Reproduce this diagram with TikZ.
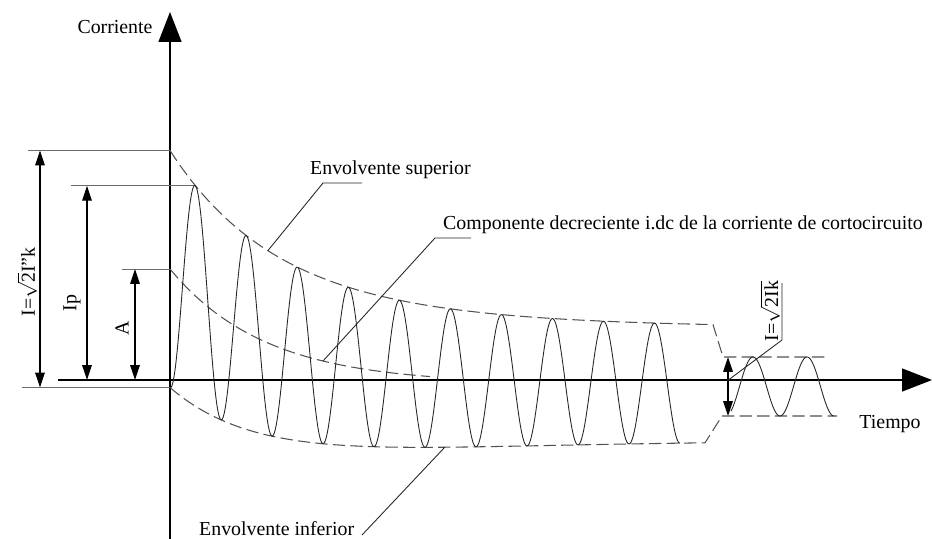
\documentclass[tikz,border=0pt]{standalone}
\usepackage{fontspec}
\setmainfont{Liberation Serif}
\usetikzlibrary{arrows.meta}

\begin{document}
\begin{tikzpicture}[x=0.02cm, y=0.02cm, font=\fontsize{11.3}{13}\selectfont,
  eje/.style={line width=0.9pt, -{Triangle[length=17pt,width=13pt]}},
  guia/.style={gray!85!black, line width=0.5pt},
  cota/.style={line width=0.6pt, {Triangle[length=8.5pt,width=5.5pt]}-{Triangle[length=8.5pt,width=5.5pt]}},
  env/.style={gray!65!black, line width=0.6pt, dash pattern=on 7pt off 3pt},
  onda/.style={black!85, line width=0.5pt},
  flecha/.style={gray!30!black, line width=0.5pt}]
  \useasboundingbox (-170,-158) rectangle (762,380);

  % ejes
  \coordinate (O) at (0,0);
  \draw[eje] (0,-160) -- (0,368) coordinate (ytop);
  \draw[eje] (-112,0) -- (762,0) coordinate (xtop);
  \node (corr) at (-55,353) {Corriente};
  \node (tiem) at (720,-44) {Tiempo};

  % lineas de referencia
  \draw[guia] (-142,229.5) -- (0,229.5);
  \draw[guia] (-99,194.2) -- (25.5,194.2);
  \draw[guia] (-48,111) -- (0,111);
  \draw[guia] (-148,-7.5) -- (0,-7.5);

  % cotas
  \draw[cota] (-130,229.5) -- (-130,-7.5);
  \draw[cota] (-83,194.2) -- (-83,0);
  \draw[cota] (-35,111) -- (-35,0);
  \draw[cota] (558,23) -- (558,-36);
  \node[rotate=90] (ik2) at (-143,98) {I=$\sqrt{\mbox{2}}$I\char"22k};
  \node[rotate=90] (ip) at (-98,77) {Ip};
  \node[rotate=90] (a) at (-48,52) {A};

  % envolventes
  \draw[env, domain=0:543, samples=100]
    plot (\x, {52+115*exp(-\x/95)+62.5*exp(-\x/180)}) -- (553,23) -- (658,23);
  \draw[env, domain=0:535, samples=100]
    plot (\x, {-60+115*exp(-\x/95)-62.5*exp(-\x/180)}) -- (552,-36) -- (667,-36);
  \draw[env, domain=0:260, samples=60]
    plot (\x, {-4+115*exp(-\x/95)});

  % corriente
  \draw[onda, domain=0:510, samples=500]
    plot (\x, {-4+115*exp(-\x/95)-(56+62.5*exp(-\x/180))*cos(7.0588*\x)});
  \draw[onda, domain=561:664, samples=120]
    plot (\x, {-6.5+29.5*cos(6.6667*(\x-583))});

  % textos
  \node[anchor=west] (esup) at (134,210) {Envolvente superior};
  \node[anchor=west] (comp) at (267,155) {Componente decreciente i.dc de la corriente de cortocircuito};
  \node[anchor=west] (einf) at (23,-149) {Envolvente inferior};
  \node[rotate=90] (ik) at (600,69) {I=$\sqrt{\mbox{2Ik}}$};

  \coordinate (esup-a) at (192,197);
  \coordinate (esup-b) at (153,197);
  \coordinate (esup-p) at (98,129.5);
  \draw[flecha] (esup-a) -- (esup-b) -- (esup-p);
  \coordinate (comp-a) at (301,142);
  \coordinate (comp-b) at (265,142);
  \coordinate (comp-p) at (153,19);
  \draw[flecha] (comp-a) -- (comp-b) -- (comp-p);
  \coordinate (einf-a) at (192,-155);
  \coordinate (einf-p) at (275,-67);
  \draw[flecha] (einf-a) -- (einf-p);
  \coordinate (ik-a) at (612,97);
  \coordinate (ik-b) at (612,40);
  \coordinate (ik-p) at (557,-1);
  \draw[flecha] (ik-a) -- (ik-b) -- (ik-p);
\end{tikzpicture}
\end{document}
